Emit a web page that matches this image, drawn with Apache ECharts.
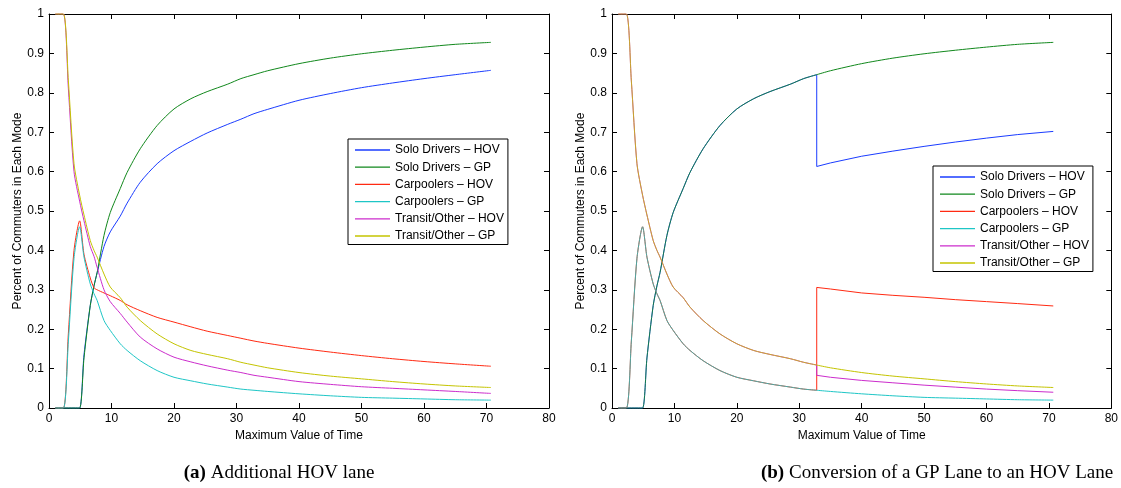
<!DOCTYPE html>
<html>
<head>
<meta charset="utf-8">
<script src="https://cdn.jsdelivr.net/npm/echarts@6/dist/echarts.min.js"></script>
<style>
html,body{margin:0;padding:0;background:#fff;}
#c{width:1121px;height:488px;}
</style>
</head>
<body>
<div id="c"></div>
<script>
// ---- data ----
const seriesNames = ['Solo Drivers \u2013 HOV','Solo Drivers \u2013 GP','Carpoolers \u2013 HOV','Carpoolers \u2013 GP','Transit/Other \u2013 HOV','Transit/Other \u2013 GP'];
const xTickLabels = ['0','10','20','30','40','50','60','70','80'];
const yTickLabels = ['0','0.1','0.2','0.3','0.4','0.5','0.6','0.7','0.8','0.9','1'];
const captionA = ['(a)', 'Additional HOV lane'];
const captionB = ['(b)', 'Conversion of a GP Lane to an HOV Lane'];

const time = [1, 2.3, 3.1, 4, 4.9, 5.6, 6.6, 7.2, 7.7, 8.8, 9.8, 11.4, 12.5, 14.6, 17.3, 20, 22.7, 25.3, 28.6, 30.7, 32.8, 35, 40, 45, 50, 55, 60, 65, 70.7];

// panel (a)
const soloHovA  = [0,0,0,0,0, 0.135,0.26,0.31,0.343,0.41,0.447,0.487,0.52,0.573,0.62,0.653,0.677,0.698,0.72,0.733,0.747,0.758,0.781,0.798,0.813,0.825,0.836,0.846,0.857];
const soloGp    = [0,0,0,0,0, 0.127,0.26,0.31,0.344,0.438,0.496,0.557,0.598,0.658,0.717,0.759,0.785,0.803,0.822,0.836,0.846,0.856,0.874,0.888,0.899,0.908,0.916,0.923,0.928];
const carHovA   = [0,0,0.19,0.40,0.475,0.39,0.33,0.305,0.30,0.292,0.285,0.273,0.262,0.247,0.23,0.218,0.206,0.195,0.184,0.177,0.17,0.164,0.152,0.142,0.133,0.125,0.118,0.112,0.106];
const carGp     = [0,0,0.17,0.38,0.46,0.383,0.315,0.29,0.273,0.222,0.197,0.163,0.146,0.12,0.095,0.078,0.069,0.061,0.053,0.048,0.045,0.042,0.036,0.031,0.027,0.025,0.023,0.021,0.02];
const transHovA = [1,1,0.81,0.60,0.525,0.475,0.41,0.385,0.357,0.30,0.27,0.24,0.218,0.18,0.15,0.129,0.117,0.107,0.096,0.09,0.083,0.078,0.067,0.06,0.054,0.05,0.046,0.042,0.037];
const transGp   = [1,1,0.83,0.62,0.54,0.49,0.425,0.40,0.383,0.34,0.307,0.28,0.256,0.222,0.188,0.163,0.146,0.136,0.125,0.116,0.109,0.102,0.09,0.081,0.074,0.067,0.061,0.056,0.052];

// panel (b): HOV lanes equal GP lanes up to the conversion time, then these
const conversionTime = 32.8;
const timeAfter = [32.8, 35, 40, 45, 50, 55, 60, 65, 70.7];
const soloHovB  = [0.613,0.622,0.639,0.652,0.664,0.675,0.685,0.694,0.702];
const carHovB   = [0.306,0.302,0.292,0.286,0.281,0.275,0.27,0.265,0.259];
const transHovB = [0.083,0.078,0.07,0.064,0.058,0.053,0.048,0.044,0.04];

const colors = ['#1a3cff','#11881c','#ff2a12','#1ec6c6','#cc2ccc','#c4c400'];

// ---- build ----
function pairs(t, v){ return t.map((x,i)=>[x, v[i]]); }
function before(v){ const o=[]; time.forEach((x,i)=>{ if(x<=conversionTime) o.push([x,v[i]]); }); return o; }
function after(v){ const o=[]; time.forEach((x,i)=>{ if(x>=conversionTime) o.push([x,v[i]]); }); return o; }
function valAt(v, t){ return v[time.indexOf(t)]; }

const FONT = 'Liberation Sans, Arial, Helvetica, sans-serif';
const SERIF = 'Liberation Serif, Times New Roman, serif';
const grids = [
  {left:49, top:14, width:500, height:394},
  {left:612, top:14, width:502, height:394}
];

const xAxes=[], yAxes=[];
grids.forEach((g,gi)=>{
  const tick = {show:true, inside:true, length:5, lineStyle:{color:'#000', width:1}};
  const line = {show:true, onZero:false, lineStyle:{color:'#000', width:1}};
  xAxes.push({gridIndex:gi, type:'value', min:0, max:80, interval:10, position:'bottom',
    axisLine:line, axisTick:tick, splitLine:{show:false},
    axisLabel:{color:'#000', fontFamily:FONT, fontSize:12, margin:5, formatter:v=>xTickLabels[Math.round(v/10)]},
    name:'Maximum Value of Time', nameLocation:'middle', nameGap:18,
    nameTextStyle:{color:'#000', fontFamily:FONT, fontSize:12}});
  xAxes.push({gridIndex:gi, type:'value', min:0, max:80, interval:10, position:'top',
    axisLine:line, axisTick:tick, splitLine:{show:false}, axisLabel:{show:false}});
  yAxes.push({gridIndex:gi, type:'value', min:0, max:1, interval:0.1, position:'left',
    axisLine:line, axisTick:tick, splitLine:{show:false},
    axisLabel:{color:'#000', fontFamily:FONT, fontSize:12, margin:5, formatter:v=>yTickLabels[Math.round(v*10)]},
    name:'Percent of Commuters in Each Mode', nameLocation:'middle', nameGap:25, nameRotate:90,
    nameTextStyle:{color:'#000', fontFamily:FONT, fontSize:12}});
  yAxes.push({gridIndex:gi, type:'value', min:0, max:1, interval:0.1, position:'right',
    axisLine:line, axisTick:tick, splitLine:{show:false}, axisLabel:{show:false}});
});

function lineSeries(name, axis, data, color, opts){
  return Object.assign({type:'line', name:name, xAxisIndex:axis, yAxisIndex:axis,
    data:data, symbol:'none', showSymbol:false, clip:false, animation:false,
    smooth:0.25,
    lineStyle:{color:color, width:1}, itemStyle:{color:color}}, opts||{});
}

const series=[];
// panel (a)
[soloHovA, soloGp, carHovA, carGp, transHovA, transGp].forEach((v,si)=>{
  series.push(lineSeries(seriesNames[si], 0, pairs(time,v), colors[si]));
});
// panel (b): pairs of (HOV, GP) lanes
const pairsB = [[soloGp, soloHovB], [carGp, carHovB], [transGp, transHovB]];
pairsB.forEach((p,k)=>{
  const [gpv, hovAfter] = p;
  const hi = k*2, gi = k*2+1;
  series.push(lineSeries(seriesNames[hi], 2, before(gpv), colors[hi]));
  series.push(lineSeries(seriesNames[hi], 2,
    [[conversionTime, valAt(gpv, conversionTime)]].concat(pairs(timeAfter, hovAfter)), colors[hi], {smooth:false}));
  series.push(lineSeries(seriesNames[gi], 2, before(gpv), colors[gi], {lineStyle:{color:colors[gi], width:1, opacity:0.8}}));
  series.push(lineSeries(seriesNames[gi], 2, after(gpv), colors[gi]));
});

function legendAt(left, top){
  return {orient:'vertical', left:left, top:top,
    data:seriesNames.map((n,i)=>({name:n, icon:'rect', itemStyle:{color:colors[i], opacity:1}})),
    backgroundColor:'#fff', borderColor:'#000', borderWidth:1, borderRadius:0,
    padding:[4.5,4,2,7], itemWidth:35, itemHeight:1.3, itemGap:4.2,
    selectedMode:false,
    textStyle:{color:'#000', fontFamily:FONT, fontSize:12, lineHeight:13}};
}

const capStyle = {rich:{
  b:{fontFamily:SERIF, fontSize:19, fontWeight:'bold', color:'#000'},
  n:{fontFamily:SERIF, fontSize:19, fontWeight:'normal', color:'#000'}}};

const chart = echarts.init(document.getElementById('c'), null, {renderer:'canvas'});
chart.setOption({
  backgroundColor:'#fff',
  animation:false,
  grid:grids,
  xAxis:xAxes,
  yAxis:yAxes,
  legend:[legendAt(348,139), legendAt(933,166)],
  title:[
    {text:'{b|'+captionA[0]+'} {n|'+captionA[1]+'}', left:274, top:459, textAlign:'center', textStyle:capStyle},
    {text:'{b|'+captionB[0]+'} {n|'+captionB[1]+'}', left:932, top:459, textAlign:'center', textStyle:capStyle}
  ],
  series:series
});
</script>
</body>
</html>
